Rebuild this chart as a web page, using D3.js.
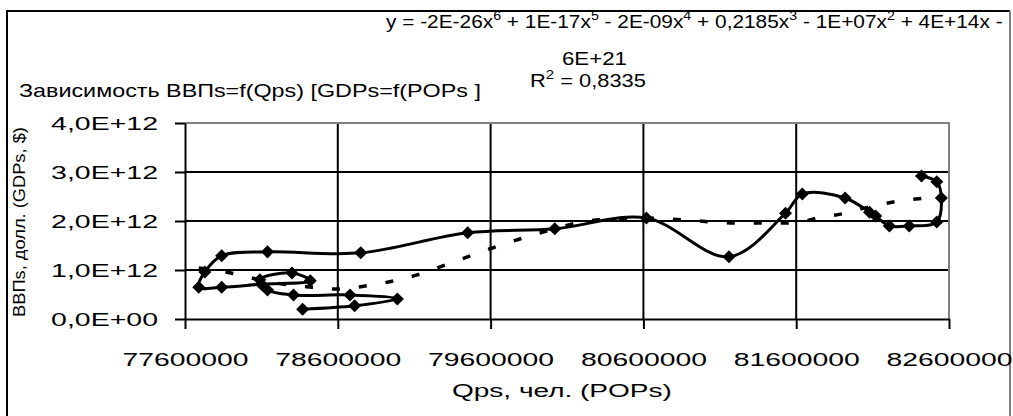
<!DOCTYPE html>
<html><head><meta charset="utf-8">
<script src="https://cdn.jsdelivr.net/npm/d3@7"></script>
<style>
html,body{margin:0;padding:0;background:#fff;}
svg{display:block;}
text{font-family:"Liberation Sans",Arial,sans-serif;fill:#000;}
</style></head>
<body>
<svg id="chart" width="1013" height="416"></svg>
<script>
// ---- data ----
const xTickValues = [77600000, 78600000, 79600000, 80600000, 81600000, 82600000];
const xTickLabels = ["77600000", "78600000", "79600000", "80600000", "81600000", "82600000"];
const yTickValues = [0, 1e12, 2e12, 3e12, 4e12];
const yTickLabels = ["0,0E+00", "1,0E+12", "2,0E+12", "3,0E+12", "4,0E+12"];

// series: population (Qps) and GDP (ВВПs), in path order
const popValues = [78370000, 78710000, 78990000, 78680000, 78310000, 78140000, 78090000, 78300000,
  78420000, 78100000, 77840000, 77690000, 77730000, 77840000, 78140000, 78750000, 79450000,
  80020000, 80620000, 81160000, 81530000, 81640000, 81920000, 82080000, 82120000, 82210000,
  82340000, 82520000, 82550000, 82520000, 82420000];
const gdpValues = [0.20e12, 0.27e12, 0.41e12, 0.49e12, 0.49e12, 0.59e12, 0.80e12, 0.94e12,
  0.78e12, 0.71e12, 0.65e12, 0.65e12, 0.96e12, 1.29e12, 1.37e12, 1.35e12, 1.76e12,
  1.84e12, 2.06e12, 1.27e12, 2.16e12, 2.55e12, 2.47e12, 2.18e12, 2.10e12, 1.90e12,
  1.90e12, 1.98e12, 2.47e12, 2.80e12, 2.92e12];

// polynomial trendline
const trendPop = [77690000, 77900000, 78090000, 78290000, 78430000, 78600000, 78770000, 78940000,
  79120000, 79300000, 79470000, 79650000, 79830000, 80020000, 80190000, 80380000, 80580000,
  80870000, 81060000, 81230000, 81400000, 81580000, 81740000, 81920000, 82080000, 82280000,
  82460000, 82550000];
const trendGdp = [1.04e12, 0.94e12, 0.80e12, 0.69e12, 0.65e12, 0.61e12, 0.67e12, 0.76e12,
  0.90e12, 1.10e12, 1.29e12, 1.49e12, 1.67e12, 1.84e12, 1.98e12, 2.04e12, 2.06e12,
  2.02e12, 1.98e12, 1.96e12, 1.96e12, 1.96e12, 2.06e12, 2.16e12, 2.29e12, 2.41e12,
  2.47e12, 2.49e12];

const titleText = "Зависимость ВВПs=f(Qps) [GDPs=f(POPs ]";
const xTitle = "Qps, чел. (POPs)";
const yTitle = "ВВПs, долл. (GDPs, $)";

// ---- layout ----
const svg = d3.select("#chart");
const L = 185, R = 949, T = 123, B = 319;
const x = d3.scaleLinear().domain([77600000, 82600000]).range([L, R]);
const y = d3.scaleLinear().domain([0, 4e12]).range([B, T]);

function fit(sel, w, ax) {
  const bw = sel.node().getBBox().width;
  const k = w / bw;
  sel.attr("transform", `translate(${ax},0) scale(${k},1) translate(${-ax},0)`);
}

// outer frame
svg.append("path").attr("d", "M7,416 L7,11 L1010,11").attr("fill", "none")
  .attr("stroke", "#000").attr("stroke-width", 2);
svg.append("line").attr("x1", 1010).attr("x2", 1010).attr("y1", 11).attr("y2", 416)
  .attr("stroke", "#808080").attr("stroke-width", 2);

// gridlines
const grid = svg.append("g");
grid.selectAll("line.h").data(yTickValues.slice(1, 4)).join("line")
  .attr("x1", L).attr("x2", R).attr("y1", d => y(d)).attr("y2", d => y(d))
  .attr("stroke", "#000").attr("stroke-width", 2);
grid.selectAll("line.v").data(xTickValues.slice(1, 5)).join("line")
  .attr("x1", d => x(d)).attr("x2", d => x(d)).attr("y1", T).attr("y2", B)
  .attr("stroke", "#000").attr("stroke-width", 2);
svg.append("path").attr("d", `M${L},${T} L${R},${T} L${R},${B}`).attr("fill", "none")
  .attr("stroke", "#808080").attr("stroke-width", 2);

// axes
const xAxis = d3.axisBottom(x).tickValues(xTickValues).tickFormat((d, i) => xTickLabels[i])
  .tickSize(10).tickSizeOuter(0);
const gx = svg.append("g").attr("transform", `translate(0,${B})`).call(xAxis);
gx.select(".domain").attr("stroke", "#000").attr("stroke-width", 2);
gx.selectAll(".tick line").attr("stroke", "#000").attr("stroke-width", 2);
gx.selectAll(".tick text").attr("font-size", 19).attr("dy", null).attr("y", 47)
  .attr("font-family", "Liberation Sans, Arial, sans-serif").attr("fill", "#000");

const yAxis = d3.axisLeft(y).tickValues(yTickValues).tickFormat((d, i) => yTickLabels[i])
  .tickSize(10).tickSizeOuter(0);
const gy = svg.append("g").attr("transform", `translate(${L},0)`).call(yAxis);
gy.select(".domain").attr("stroke", "#000").attr("stroke-width", 2);
gy.selectAll(".tick line").attr("stroke", "#000").attr("stroke-width", 2);
gy.selectAll(".tick text").attr("font-size", 19).attr("x", -27).attr("dy", "0.35em")
  .attr("font-family", "Liberation Sans, Arial, sans-serif").attr("fill", "#000");

gx.selectAll(".tick text").each(function () {
  const bw = this.getBBox().width;
  d3.select(this).attr("transform", `scale(${126 / bw},1)`);
});
gy.selectAll(".tick text").each(function () {
  const bw = this.getBBox().width;
  const k = 107 / bw;
  d3.select(this).attr("transform", `translate(-27,0) scale(${k},1) translate(27,0)`);
});

// series line
const line = d3.line().x((d, i) => x(popValues[i])).y((d, i) => y(gdpValues[i]))
  .curve(d3.curveCatmullRom.alpha(0.5));
svg.append("path").attr("d", line(popValues)).attr("fill", "none")
  .attr("stroke", "#000").attr("stroke-width", 3).attr("stroke-linejoin", "round");

// diamond markers
const symbol = d3.symbol().type(d3.symbolSquare).size(85);
svg.append("g").selectAll("path").data(popValues).join("path")
  .attr("d", symbol)
  .attr("transform", (d, i) => `translate(${x(d)},${y(gdpValues[i])}) rotate(45)`)
  .attr("fill", "#000");

// trendline
const tline = d3.line().x((d, i) => x(trendPop[i])).y((d, i) => y(trendGdp[i]))
  .curve(d3.curveMonotoneX);
svg.append("path").attr("d", tline(trendPop)).attr("fill", "none")
  .attr("stroke", "#000").attr("stroke-width", 3.5).attr("stroke-dasharray", "8,19");

// texts
const eq = svg.append("text").attr("x", 386).attr("y", 28).attr("font-size", 19);
const eqParts = [["y = -2E-26x", ""], ["6", "sup"], [" + 1E-17x", ""], ["5", "sup"],
  [" - 2E-09x", ""], ["4", "sup"], [" + 0,2185x", ""], ["3", "sup"], [" - 1E+07x", ""],
  ["2", "sup"], [" + 4E+14x -", ""]];
eqParts.forEach(([s, k], i) => {
  const ts = eq.append("tspan").text(s);
  if (k === "sup") ts.attr("font-size", 13).attr("dy", -8);
  else ts.attr("dy", i > 0 ? 8 : 0);
});
fit(eq, 617, 386);

const e2 = svg.append("text").attr("x", 562).attr("y", 65).attr("font-size", 19).text("6E+21");
fit(e2, 65, 562);

const r2 = svg.append("text").attr("x", 530).attr("y", 87).attr("font-size", 19);
r2.append("tspan").text("R");
r2.append("tspan").text("2").attr("font-size", 13).attr("dy", -8);
r2.append("tspan").text(" = 0,8335").attr("dy", 8);
fit(r2, 116, 530);

const tt = svg.append("text").attr("x", 19).attr("y", 97).attr("font-size", 19).text(titleText);
fit(tt, 462, 19);

const xt = svg.append("text").attr("x", 452).attr("y", 397).attr("font-size", 19).text(xTitle);
fit(xt, 220, 452);

const ytG = svg.append("g").attr("transform", "translate(25,222) rotate(-90)");
const yt = ytG.append("text").attr("x", -95).attr("y", 0).attr("font-size", 17).text(yTitle);
fit(yt, 190, -95);
</script>
</body></html>
